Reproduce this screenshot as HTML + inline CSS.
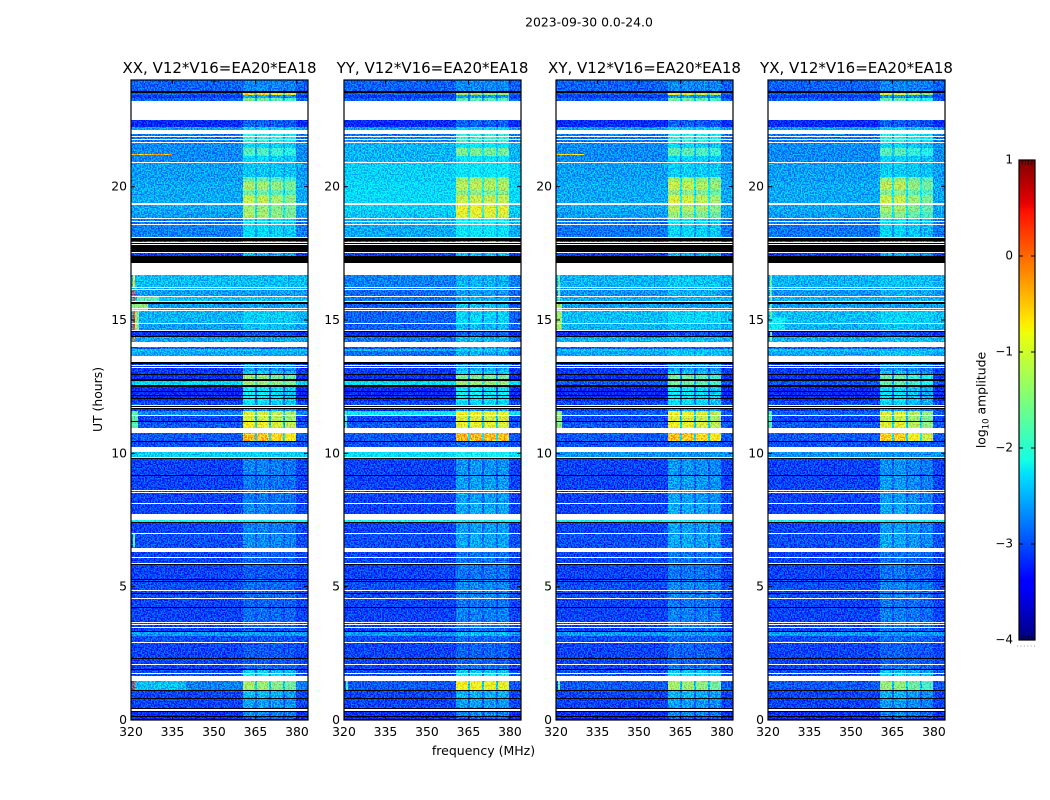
<!DOCTYPE html>
<html lang="en">
<head>
<meta charset="utf-8">
<title>2023-09-30 amplitude waterfall</title>
<style>
html,body{margin:0;padding:0;background:#fff;}
svg{display:block;}
text{font-family:"DejaVu Sans","Liberation Sans",sans-serif;fill:#000;}
</style>
</head>
<body>
<svg id="chart" xmlns="http://www.w3.org/2000/svg" width="1050" height="800" viewBox="0 0 1050 800">
<defs>
<filter id="speckle" x="0" y="0" width="1" height="1" color-interpolation-filters="sRGB">
<feTurbulence type="fractalNoise" baseFrequency="0.7" numOctaves="1" seed="3" result="n"/>
<feColorMatrix in="n" type="matrix" values="0 0 0 0 .5  4.4 0 0 0 -1.7  1.6 0 0 0 -.1  0 0 0 0 1" result="m"/>
<feComposite in="SourceGraphic" in2="m" operator="arithmetic" k1="0" k2="1" k3=".5" k4="-.25"/>
</filter>
</defs>
<text x="589" y="26.5" font-size="12.4" text-anchor="middle">2023-09-30 0.0-24.0</text>
<text x="483.5" y="755" font-size="12.5" text-anchor="middle">frequency (MHz)</text>
<text transform="translate(102,399.5) rotate(-90)" font-size="12.4" text-anchor="middle">UT (hours)</text>
<text transform="translate(985.5,400) rotate(-90)" font-size="12.4" text-anchor="middle">log<tspan font-size="8.5" dy="3">10</tspan><tspan dy="-3"> amplitude</tspan></text>
</svg>
<script>
const _ = null;
const polarizations = ['XX', 'YY', 'XY', 'YX'];
const baselineLabel = 'V12*V16=EA20*EA18';
const xTicks = [320, 335, 350, 365, 380];
const yTicks = [0, 5, 10, 15, 20];
const colorbarTicks = [1, 0, -1, -2, -3, -4];
const subbandStart = [360.5, 365.6, 370.5, 375.6];
const subbandEnd = [365, 369.8, 374.9, 379.8];

// integration numbers (135 s each) bounding each time row, latest first
const rowEdges = [640,629,627.3,624.7,622.5,619.3,600,593,590,586,
584,582.7,580.7,579.7,578,577,572,564,558.3,557,
543,538,530,525,517.3,515,508,501.7,500.7,498.7,
497.7,496.3,495.3,482.7,481.7,479,477.7,476.7,475.7,474.7,
468,467,464.3,457.3,445,433.3,432.3,431,430,423.7,
422.7,419,418,416.3,412.3,411.3,409.7,408.7,396.7,395.7,
390,389,388,384,383,378.3,372.7,370.7,369,364.3,
357.7,356.3,355,354,353,352,349,346,345,340.7,
339.3,335,333.3,329,328,325,324,322,321,319.3,
315,314,313,312,311,309,305,304,298.7,297.7,
291.7,286.7,279.3,278.3,273.3,268.3,263.3,262.3,261.3,245,
244,230,229,228,227,217.3,216,205.7,200,198,
197,187.3,186.3,172.3,168.3,163,162,156.7,155.7,154.7,
141.3,140.3,139.3,138.3,130,129,127.3,125.7,122,121,
113.3,112.3,98,97,95.7,94.7,93.3,92.3,88.7,87.7,
84,78,77,62,61,56,55,51,50,47,
46,44.3,39.3,30,29,22.3,21.3,11.7,10.7,9.3,
8.3,4,3,1.3,0];

// d = data, w = no data (white), k = zeroed (black)
const rowFlags = ('dkdddwddwd'+'wdwdwdddwd'+'ddddwddwdw'+'dwdwkdwkwk'+'wdkwdwdwdw'+
'dwkdwdwdwd'+'wkdkdwdddw'+'kdwdwddkdk'+'dkdkdkdkdd'+'wkwkddwdkd'+
'wdkdwdwkdk'+'dwdwdwdwdk'+'dwdwdwdwkd'+'kdkdwdkdwd'+'kdwdwdwdkd'+
'dwdkdwdkdw'+'dwdkdkdkwk'+'dkdk').split('');

// log10 amplitude of the off-band floor per row
const xxFloor = [-2.9,_,-2.9,-3.1,-2.9,_,-3.2,-2.6,_,-2.8,
_,-2.8,_,-2.8,_,-2.7,-2.7,-2.7,_,-2.6,
-2.6,-2.55,-2.55,-2.55,_,-2.55,-2.6,_,-2.8,_,
-2.8,_,-2.75,_,_,-3.0,_,_,_,_,
_,-3.1,_,_,-2.45,_,-2.5,_,-2.6,_,
-2.4,_,_,-2.6,_,-2.6,_,-2.5,_,-2.6,
_,_,-3.15,_,-2.55,_,-2.9,-2.4,-2.55,_,
_,-3.0,_,-3.2,_,-3.1,-3.1,_,-3.15,_,
-2.3,_,-3.2,_,-3.2,_,-3.2,_,-3.2,-3.0,
_,_,_,_,-3.1,-2.7,_,-3.05,_,-2.95,
_,-2.95,_,-3.0,_,-2.35,_,_,-3.05,_,
-3.05,_,-3.05,_,-3.05,_,-3.05,_,-2.1,_,
-3.05,_,-3.0,_,-3.05,_,-3.05,_,_,-3.05,
_,-3.0,_,-3.0,_,-3.0,_,-3.0,_,-3.05,
_,-3.05,_,-3.05,_,-3.05,_,-3.05,_,-2.6,
-3.0,_,-3.05,_,-3.05,_,-3.05,_,-3.0,_,
-3.0,_,-2.75,_,-3.05,_,-3.05,_,_,_,
-3.15,_,-3.2,_];
const yyFloor = [-2.9,_,-2.9,-3.1,-2.9,_,-3.2,-2.6,_,-2.8,
_,-2.7,_,-2.7,_,-2.5,-2.5,-2.5,_,-2.35,
-2.35,-2.3,-2.3,-2.3,_,-2.35,-2.4,_,-2.5,_,
-2.5,_,-2.55,_,_,-3.0,_,_,_,_,
_,-3.1,_,_,-2.75,_,-2.85,_,-2.85,_,
-2.8,_,_,-2.95,_,-2.95,_,-2.9,_,-2.9,
_,_,-3.2,_,-2.8,_,-2.95,-2.5,-2.85,_,
_,-3.0,_,-3.2,_,-3.1,-3.1,_,-3.15,_,
-2.25,_,-3.2,_,-3.2,_,-3.2,_,-3.2,-3.0,
_,_,_,_,-3.1,-2.2,_,-3.05,_,-2.95,
_,-2.95,_,-3.0,_,-2.25,_,_,-3.05,_,
-3.05,_,-3.05,_,-3.05,_,-3.05,_,-2.1,_,
-3.05,_,-3.0,_,-3.05,_,-3.05,_,_,-3.05,
_,-3.0,_,-3.0,_,-3.0,_,-3.0,_,-3.05,
_,-3.05,_,-3.05,_,-3.05,_,-3.05,_,-2.6,
-3.0,_,-3.05,_,-3.05,_,-3.05,_,-3.0,_,
-3.0,_,-2.95,_,-3.05,_,-3.05,_,_,_,
-3.15,_,-3.2,_];
const crossFloor = [-2.9,_,-2.9,-3.1,-2.9,_,-3.2,-2.6,_,-2.8,
_,-2.8,_,-2.8,_,-2.7,-2.7,-2.7,_,-2.6,
-2.6,-2.55,-2.55,-2.55,_,-2.55,-2.6,_,-2.8,_,
-2.8,_,-2.8,_,_,-3.0,_,_,_,_,
_,-3.1,_,_,-2.5,_,-2.6,_,-2.65,_,
-2.5,_,_,-2.6,_,-2.6,_,-2.45,_,-2.5,
_,_,-3.15,_,-2.5,_,-2.9,-2.4,-2.55,_,
_,-3.0,_,-3.2,_,-3.1,-3.1,_,-3.15,_,
-2.95,_,-3.2,_,-3.2,_,-3.2,_,-3.2,-3.0,
_,_,_,_,-3.1,-2.9,_,-3.05,_,-2.95,
_,-2.95,_,-3.0,_,-2.65,_,_,-3.05,_,
-3.05,_,-3.05,_,-3.05,_,-3.05,_,-2.1,_,
-3.05,_,-3.0,_,-3.05,_,-3.05,_,_,-3.05,
_,-3.0,_,-3.0,_,-3.0,_,-3.0,_,-3.05,
_,-3.05,_,-3.05,_,-3.05,_,-3.05,_,-2.6,
-3.0,_,-3.05,_,-3.05,_,-3.05,_,-3.0,_,
-3.0,_,-2.95,_,-3.05,_,-3.05,_,_,_,
-3.15,_,-3.2,_];

// log10 amplitude of the four 360-380 MHz subbands per row
const xxTone = [-2.7,_,-0.7,-2.6,-1.6,_,-2.9,-2.3,_,-2.0,
_,-1.9,_,-1.9,_,-2.3,-1.8,-2.3,_,-2.4,
-1.7,-1.3,-1.6,-1.15,_,-1.35,-1.3,_,-2.2,_,
-2.2,_,-2.3,_,_,-2.5,_,_,_,_,
_,-2.5,_,_,_,_,_,_,_,_,
_,_,_,_,_,_,_,-2.35,_,-2.45,
_,_,-3.0,_,_,_,_,_,_,_,
_,-2.6,_,-2.8,_,-2.6,-2.4,_,-1.4,_,
-1.35,_,-2.2,_,-2.2,_,-2.2,_,-2.2,-2.3,
_,_,_,_,-2.6,-1.0,_,-1.05,_,-0.85,
_,-0.5,_,-2.9,_,_,_,_,-2.75,_,
-2.8,_,-2.8,_,-2.8,_,-2.75,_,_,_,
-2.75,_,-2.7,_,-2.9,_,-2.9,_,_,-2.95,
_,-2.85,_,-2.85,_,-2.85,_,-2.85,_,-2.9,
_,-2.85,_,-2.85,_,-2.85,_,-2.95,_,_,
-2.95,_,-2.95,_,-2.95,_,-2.85,_,-2.4,_,
-2.2,_,-1.35,_,-2.5,_,-2.6,_,_,_,
-2.7,_,-2.9,_];
const yyTone = [-2.7,_,-1.3,-2.6,-1.7,_,-2.9,-2.3,_,-1.9,
_,-1.8,_,-1.8,_,-2.2,-1.5,-2.2,_,-2.2,
-1.3,-1.15,-1.4,-1.05,_,-0.85,-0.9,_,-2.1,_,
-2.1,_,-2.2,_,_,-2.4,_,_,_,_,
_,-2.4,_,_,-2.5,_,-2.6,_,-2.6,_,
-2.5,_,_,-2.4,_,-2.4,_,-2.3,_,-2.45,
_,_,-2.9,_,-2.45,_,-2.6,-2.3,-2.5,_,
_,-2.6,_,-2.8,_,-2.5,-2.3,_,-1.5,_,
-1.3,_,-2.2,_,-2.1,_,-2.2,_,-2.2,-2.3,
_,_,_,_,-2.6,-0.8,_,-0.95,_,-0.85,
_,-0.4,_,-2.9,_,-2.1,_,_,-2.65,_,
-2.6,_,-2.6,_,-2.6,_,-2.55,_,_,_,
-2.6,_,-2.55,_,-2.8,_,-2.8,_,_,-2.8,
_,-2.7,_,-2.7,_,-2.7,_,-2.7,_,-2.8,
_,-2.75,_,-2.75,_,-2.75,_,-2.85,_,-2.45,
-2.85,_,-2.9,_,-2.9,_,-2.8,_,-2.4,_,
-2.1,_,-0.8,_,-2.5,_,-2.6,_,_,_,
-2.7,_,-2.9,_];
const crossTone = [-2.7,_,-0.9,-2.6,-1.6,_,-2.9,-2.3,_,-2.0,
_,-1.9,_,-1.9,_,-2.3,-1.7,-2.3,_,-2.35,
-1.3,-1.1,-1.4,-1.0,_,-1.2,-1.4,_,-2.2,_,
-2.2,_,-2.3,_,_,-2.5,_,_,_,_,
_,-2.5,_,_,-2.4,_,_,_,-2.5,_,
_,_,_,_,_,_,_,-2.3,_,-2.4,
_,_,-3.0,_,-2.4,_,_,_,-2.4,_,
_,-2.6,_,-2.8,_,-2.6,-2.4,_,-1.6,_,
-1.6,_,-2.2,_,-2.2,_,-2.2,_,-2.2,-2.3,
_,_,_,_,-2.6,-0.85,_,-1.0,_,-0.85,
_,-0.5,_,-2.9,_,_,_,_,-2.65,_,
-2.6,_,-2.6,_,-2.6,_,-2.55,_,_,_,
-2.6,_,-2.55,_,-2.8,_,-2.8,_,_,-2.8,
_,-2.7,_,-2.7,_,-2.7,_,-2.7,_,-2.8,
_,-2.75,_,-2.75,_,-2.75,_,-2.85,_,_,
-2.85,_,-2.9,_,-2.9,_,-2.8,_,-2.4,_,
-2.2,_,-1.3,_,-2.5,_,-2.6,_,_,_,
-2.7,_,-2.9,_];

// subband offsets per polarization, from the picture
const xxSubbandGain = [0.1, 0.05, -0.1, -0.25];
const yySubbandGain = [0, 0, -0.05, -0.05];
const xySubbandGain = [0.05, 0, -0.1, -0.25];
const yxSubbandGain = [-0.05, -0.05, -0.3, -0.5];

// narrow interference features
const rfiPanel = [0,0,0,0,0,0,0,0,0,0,0,0, 2,2,2,2,2, 3,3,3, 1,1];
const rfiFreqStart = [320.8,320.8,320.8,321.6,320,322,320.8,320,320.8,321.6,320.8,320, 320.8,320,320,320.8,320, 320.8,320,320, 320.5,320.8];
const rfiFreqEnd = [321.6,321.6,321.6,323,326,330,321.6,322.5,321.6,340,321.4,335, 321.6,322,322,321.6,330, 321.6,326,321.5, 321.2,321.4];
const rfiHourTop = [16.69,16.13,15.6,15.6,15.6,15.86,14.36,11.59,1.5,1.5,7.01,21.23, 16.69,15.6,11.59,1.5,21.23, 16.69,15.1,11.59, 11.59,1.5];
const rfiHourBottom = [16.2,15.71,14.63,14.63,15.38,15.71,14.21,10.95,1.13,1.13,6.49,21.19, 15.71,14.63,10.95,1.13,21.19, 14.21,14.63,10.95, 10.95,1.13];
const rfiLevel = [-0.7,0.2,0.3,-1.4,-1.4,-1.7,-0.1,-1.7,0.3,-2.45,-1.6,-0.4, -1.6,-1.3,-1.4,-1.6,-0.7, -1.6,-2.15,-1.8, -1.8,-1.8];

const NS = 'http://www.w3.org/2000/svg';
const svg = document.getElementById('chart');
const panelLeft = [131, 344, 556, 768];
const panelWidth = 177;
const plotTop = 80;
const plotHeight = 640;
const hoursPerIntegration = 0.0375;

function xScale(panel, mhz) { return panelLeft[panel] + (mhz - 320) / 64 * panelWidth; }
function yScale(hour) { return plotTop + plotHeight - hour / 24 * plotHeight; }
function interp(points, t) {
  for (let i = 1; i < points.length; i++) {
    if (t <= points[i][0]) {
      const a = points[i - 1], b = points[i];
      return a[1] + (b[1] - a[1]) * (t - a[0]) / (b[0] - a[0]);
    }
  }
  return points[points.length - 1][1];
}
const jetR = [[0,0],[0.35,0],[0.66,1],[0.89,1],[1,0.5]];
const jetG = [[0,0],[0.125,0],[0.375,1],[0.64,1],[0.91,0],[1,0]];
const jetB = [[0,0.5],[0.11,1],[0.34,1],[0.65,0],[1,0]];
function color(level) {
  const t = Math.max(0, Math.min(1, (level + 4) / 5));
  const c = p => Math.round(255 * interp(p, t));
  return 'rgb(' + c(jetR) + ',' + c(jetG) + ',' + c(jetB) + ')';
}
function shape(parent, tag, attrs) {
  const el = document.createElementNS(NS, tag);
  for (const k in attrs) el.setAttribute(k, attrs[k]);
  parent.appendChild(el);
  return el;
}
function cell(parent, panel, f0, f1, hTop, hBottom, level) {
  const y0 = Math.round(yScale(hTop));
  const y1 = Math.max(y0 + 1, Math.round(yScale(hBottom)));
  const x0 = Math.round(xScale(panel, f0));
  const x1 = Math.max(x0 + 1, Math.round(xScale(panel, f1)));
  const el = shape(parent, 'rect', { x: x0, width: x1 - x0, y: y0, height: y1 - y0, fill: color(level) });
  
  
  return el;
}
function label(parent, x, y, str, size, anchor) {
  const el = shape(parent, 'text', { x: x, y: y, 'font-size': size, 'text-anchor': anchor });
  el.textContent = str;
  return el;
}

const floors = [xxFloor, yyFloor, crossFloor, crossFloor];
const tones = [xxTone, yyTone, crossTone, crossTone];
const gains = [xxSubbandGain, yySubbandGain, xySubbandGain, yxSubbandGain];

polarizations.forEach(function (pol, p) {
  const panel = shape(svg, 'g', {});
  
  

  const data = shape(panel, 'g', { filter: 'url(#speckle)', 'shape-rendering': 'crispEdges' });
  
  
  const base = cell(data, p, 320, 384, 24, 0, -3.1);
  

  rowFlags.forEach(function (flag, i) {
    if (flag !== 'd') return;
    const hTop = rowEdges[i] * hoursPerIntegration;
    const hBottom = rowEdges[i + 1] * hoursPerIntegration;
    const floor = floors[p][i];
    const tone = tones[p][i];
    cell(data, p, 320, 384, hTop, hBottom, floor);
    if (tone !== null) {
      cell(data, p, subbandStart[0], subbandEnd[3], hTop, hBottom, floor + 0.3 * (tone - floor));
      subbandStart.forEach(function (start, s) {
        cell(data, p, start, subbandEnd[s], hTop, hBottom, tone + gains[p][s] * Math.min(1, (tone - floor) / 1.5));
      });
    }
  });

  rfiPanel.forEach(function (owner, r) {
    if (owner !== p) return;
    const rfi = cell(data, p, rfiFreqStart[r], rfiFreqEnd[r], rfiHourTop[r], rfiHourBottom[r], rfiLevel[r]);
    
  });

  const flags = shape(panel, 'g', { 'shape-rendering': 'crispEdges' });
  
  
  rowFlags.forEach(function (flag, i) {
    if (flag === 'd') return;
    const y0 = Math.round(yScale(rowEdges[i] * hoursPerIntegration));
    const y1 = Math.max(y0 + 1, Math.round(yScale(rowEdges[i + 1] * hoursPerIntegration)));
    const band = shape(flags, 'rect', {
      x: panelLeft[p], width: panelWidth, y: y0, height: y1 - y0,
      fill: flag === 'w' ? '#ffffff' : '#000000'
    });
    
    
  });

  const frame = shape(panel, 'rect', {
    x: panelLeft[p], y: plotTop, width: panelWidth, height: plotHeight,
    fill: 'none', stroke: '#000', 'stroke-width': 1.2
  });
  
  

  xTicks.forEach(function (t) {
    const x = xScale(p, t);
    [[plotTop, plotTop + 4], [plotTop + plotHeight - 4, plotTop + plotHeight]].forEach(function (seg) {
      const tick = shape(panel, 'line', { x1: x, x2: x, y1: seg[0], y2: seg[1], stroke: '#000', 'stroke-width': 1 });
      
      
    });
    const tl = label(panel, x, 736, String(t), 12.4, 'middle');
    
    
  });
  yTicks.forEach(function (t) {
    const y = yScale(t);
    [[panelLeft[p], panelLeft[p] + 4], [panelLeft[p] + panelWidth - 4, panelLeft[p] + panelWidth]].forEach(function (seg) {
      const tick = shape(panel, 'line', { x1: seg[0], x2: seg[1], y1: y, y2: y, stroke: '#000', 'stroke-width': 1 });
      
      
    });
    const tl = label(panel, panelLeft[p] - 4, y + 4, String(t), 12.4, 'end');
    
    
  });
  const title = label(panel, panelLeft[p] + panelWidth / 2, 73, pol + ', ' + baselineLabel, 15, 'middle');
  
  
});

// colorbar
const cbX = 1019, cbW = 16, cbTop = 160, cbH = 480;
function cbScale(level) { return cbTop + (1 - level) / 5 * cbH; }
const bar = shape(svg, 'g', { 'shape-rendering': 'crispEdges' });


for (let py = 0; py < cbH; py += 2) {
  const seg = shape(bar, 'rect', { x: cbX, y: cbTop + py, width: cbW, height: 2, fill: color(1 - (py + 1) / cbH * 5) });
  
  
}
const cbFrame = shape(svg, 'rect', { x: cbX, y: cbTop, width: cbW, height: cbH, fill: 'none', stroke: '#000', 'stroke-width': 1.2 });


colorbarTicks.forEach(function (t) {
  const y = cbScale(t);
  [[cbX, cbX + 4], [cbX + cbW - 4, cbX + cbW]].forEach(function (seg) {
    const tick = shape(svg, 'line', { x1: seg[0], x2: seg[1], y1: y, y2: y, stroke: '#000', 'stroke-width': 1 });
    
    
  });
  const tl = label(svg, 1013, y + 3.5, t < 0 ? '\u2212' + Math.abs(t) : String(t), 12, 'end');
  
  
});
for (let k = 1; k < 5; k++) {
  const x = cbX + k * 3.2;
  [[cbTop, cbTop + 5], [cbTop + cbH - 5, cbTop + cbH]].forEach(function (seg) {
    const tick = shape(svg, 'line', { x1: x, x2: x, y1: seg[0], y2: seg[1], stroke: '#000', 'stroke-width': 0.8 });
    
    
  });
}
for (let k = 0; k < 6; k++) {
  const dot = shape(svg, 'rect', { x: cbX - 2 + k * 3.4, y: 645.5, width: 1, height: 1, fill: '#999' });
  
  
}
</script>
</body>
</html>
